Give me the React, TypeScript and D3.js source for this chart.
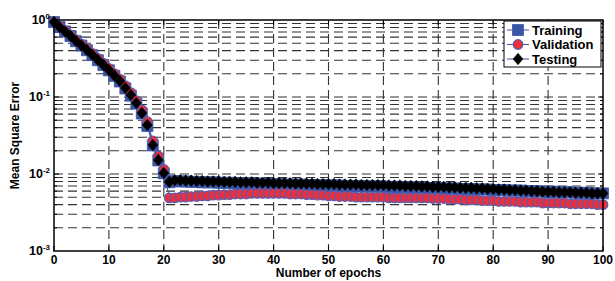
import React, { useEffect, useRef } from 'react';
import * as d3 from 'd3';

// epochs 0..100, one marker per epoch
const epochs: number[] = d3.range(0, 101);

const training: number[] = [
  0.94, 0.81, 0.71, 0.62, 0.53, 0.465, 0.405, 0.35, 0.3, 0.26,
  0.222, 0.188, 0.159, 0.129, 0.104, 0.082, 0.061, 0.042, 0.0235, 0.015,
  0.0102, 0.0078, 0.0081, 0.008, 0.008, 0.0079, 0.0079, 0.0078, 0.0078, 0.0078,
  0.0077, 0.0077, 0.0077, 0.0076, 0.0076, 0.0076, 0.0075, 0.0075, 0.0075, 0.0074,
  0.0074, 0.0074, 0.0073, 0.0073, 0.0073, 0.0073, 0.0072, 0.0072, 0.0072, 0.0072,
  0.0071, 0.0071, 0.0071, 0.007, 0.007, 0.007, 0.007, 0.0069, 0.0069, 0.0069,
  0.0069, 0.0068, 0.0068, 0.0068, 0.0068, 0.0067, 0.0067, 0.0067, 0.0066, 0.0066,
  0.0066, 0.0065, 0.0065, 0.0065, 0.0064, 0.0064, 0.0064, 0.0063, 0.0063, 0.0063,
  0.0062, 0.0062, 0.0062, 0.0061, 0.0061, 0.0061, 0.006, 0.006, 0.006, 0.0059,
  0.0059, 0.0059, 0.0058, 0.0058, 0.0058, 0.0057, 0.0057, 0.0057, 0.0056, 0.0056,
  0.0056
];

const validation: number[] = [
  0.95, 0.83, 0.73, 0.64, 0.555, 0.485, 0.425, 0.368, 0.318, 0.275,
  0.236, 0.201, 0.171, 0.14, 0.114, 0.09, 0.068, 0.048, 0.027, 0.0172,
  0.0115, 0.0049, 0.0049, 0.005, 0.005, 0.0051, 0.0051, 0.0052, 0.0052, 0.0053,
  0.0053, 0.0054, 0.0054, 0.0055, 0.0055, 0.0055, 0.0056, 0.0056, 0.0056, 0.0056,
  0.0056, 0.0056, 0.0056, 0.0055, 0.0055, 0.0055, 0.0054, 0.0054, 0.0053, 0.0053,
  0.0052, 0.0052, 0.0051, 0.0051, 0.0051, 0.005, 0.005, 0.005, 0.005, 0.005,
  0.005, 0.0049, 0.0049, 0.0049, 0.0049, 0.0049, 0.0049, 0.0049, 0.0049, 0.0048,
  0.0048, 0.0048, 0.0047, 0.0047, 0.0047, 0.0046, 0.0046, 0.0046, 0.0045, 0.0045,
  0.0045, 0.0044, 0.0044, 0.0044, 0.0044, 0.0043, 0.0043, 0.0043, 0.0043, 0.0042,
  0.0042, 0.0042, 0.0042, 0.0042, 0.0041, 0.0041, 0.0041, 0.0041, 0.0041, 0.004,
  0.004
];

const testing: number[] = [
  0.94, 0.81, 0.71, 0.62, 0.535, 0.467, 0.408, 0.351, 0.303, 0.261,
  0.224, 0.19, 0.161, 0.131, 0.106, 0.0836, 0.062, 0.0433, 0.0238, 0.0152,
  0.0103, 0.0079, 0.0083, 0.0083, 0.0082, 0.0082, 0.0081, 0.0081, 0.008, 0.008,
  0.008, 0.0079, 0.0079, 0.0079, 0.0078, 0.0078, 0.0078, 0.0077, 0.0077, 0.0077,
  0.0076, 0.0076, 0.0076, 0.0076, 0.0075, 0.0075, 0.0075, 0.0075, 0.0074, 0.0074,
  0.0074, 0.0074, 0.0073, 0.0073, 0.0073, 0.0073, 0.0072, 0.0072, 0.0072, 0.0072,
  0.0072, 0.0071, 0.0071, 0.0071, 0.007, 0.007, 0.007, 0.0069, 0.0069, 0.0068,
  0.0068, 0.0068, 0.0067, 0.0067, 0.0066, 0.0066, 0.0066, 0.0065, 0.0065, 0.0064,
  0.0064, 0.0063, 0.0063, 0.0062, 0.0062, 0.0061, 0.0061, 0.006, 0.006, 0.0059,
  0.0059, 0.0059, 0.0058, 0.0058, 0.0058, 0.0057, 0.0057, 0.0057, 0.0056, 0.0056,
  0.0056
];

const xTicks: number[] = [0, 10, 20, 30, 40, 50, 60, 70, 80, 90, 100];
const yTicks: number[] = [1e-3, 1e-2, 1e-1, 1];
const yExponents: string[] = ['-3', '-2', '-1', '0'];
const legendNames: string[] = ['Training', 'Validation', 'Testing'];

const FONT = '"Liberation Sans", Arial, sans-serif';
const BLUE = '#3a55a6';
const RED = '#ec2f3a';

export default function App() {
  const ref = useRef<SVGSVGElement>(null);

  useEffect(() => {
    const svg = d3.select(ref.current);
    svg.selectAll('*').remove();

    const left = 54, right = 603, top = 20, bottom = 251;

    const x = d3.scaleLinear().domain([0, 100]).range([left, right]);
    const y = d3.scaleLog().domain([1e-3, 1]).range([bottom, top]);

    // grid
    const grid = svg.append('g').attr('class', 'grid');
    const minorVals: number[] = [];
    [1e-3, 1e-2, 1e-1].forEach(dec => {
      for (let k = 1; k < 10; k++) {
        const v = dec * k;
        if (v > 1e-3 && v < 1) minorVals.push(v);
      }
    });
    grid.selectAll('.hgrid')
      .data(minorVals)
      .enter().append('line')
      .attr('x1', left).attr('x2', right)
      .attr('y1', d => y(d)).attr('y2', d => y(d))
      .attr('stroke', '#333')
      .attr('stroke-width', 1.1)
      .attr('stroke-dasharray', '9,5');

    grid.selectAll('.vgrid')
      .data(xTicks.slice(1, -1))
      .enter().append('line')
      .attr('x1', d => x(d)).attr('x2', d => x(d))
      .attr('y1', top).attr('y2', bottom)
      .attr('stroke', '#333')
      .attr('stroke-width', 1.1)
      .attr('stroke-dasharray', '9,5');

    // ticks (inside, both sides)
    const ticks = svg.append('g').attr('stroke', '#000').attr('stroke-width', 1);
    xTicks.forEach(t => {
      ticks.append('line').attr('x1', x(t)).attr('x2', x(t)).attr('y1', bottom).attr('y2', bottom - 5);
      ticks.append('line').attr('x1', x(t)).attr('x2', x(t)).attr('y1', top).attr('y2', top + 5);
    });
    minorVals.forEach(v => {
      const len = [0.01, 0.1].includes(+v.toPrecision(3)) ? 5 : 3;
      ticks.append('line').attr('x1', left).attr('x2', left + len).attr('y1', y(v)).attr('y2', y(v));
      ticks.append('line').attr('x1', right).attr('x2', right - len).attr('y1', y(v)).attr('y2', y(v));
    });

    // series
    const series = [
      { values: training, name: 'training' },
      { values: validation, name: 'validation' },
      { values: testing, name: 'testing' }
    ];
    const line = d3.line<number>()
      .x((d, i) => x(epochs[i]))
      .y(d => y(d));

    const square = d3.symbol().type(d3.symbolSquare).size(121);
    const circle = d3.symbol().type(d3.symbolCircle).size(72);
    const diamondPath = 'M0,-5.8L5,0L0,5.8L-5,0Z';

    const drawMarker = (g: any, name: string, cx: number, cy: number) => {
      if (name === 'training') {
        g.append('path').attr('d', square()).attr('transform', `translate(${cx},${cy})`)
          .attr('fill', BLUE).attr('stroke', BLUE).attr('stroke-width', 0.8);
      } else if (name === 'validation') {
        g.append('path').attr('d', circle()).attr('transform', `translate(${cx},${cy})`)
          .attr('fill', RED).attr('stroke', '#5a5cb0').attr('stroke-width', 1.2);
      } else {
        g.append('path').attr('d', diamondPath).attr('transform', `translate(${cx},${cy})`)
          .attr('fill', '#000').attr('stroke', '#000').attr('stroke-width', 0.5);
      }
    };

    series.forEach(s => {
      const g = svg.append('g').attr('class', s.name);
      g.append('path').datum(s.values)
        .attr('d', line)
        .attr('fill', 'none')
        .attr('stroke', BLUE)
        .attr('stroke-width', 1);
      s.values.forEach((v, i) => drawMarker(g, s.name, x(epochs[i]), y(v)));
    });

    // axis box
    svg.append('rect')
      .attr('x', left).attr('y', top)
      .attr('width', right - left).attr('height', bottom - top)
      .attr('fill', 'none').attr('stroke', '#000').attr('stroke-width', 1.5);

    // tick labels
    svg.append('g').selectAll('text')
      .data(xTicks)
      .enter().append('text')
      .attr('x', d => x(d))
      .attr('y', 264)
      .attr('text-anchor', 'middle')
      .attr('font-family', FONT)
      .attr('font-weight', 'bold')
      .attr('font-size', 12)
      .text(d => d);

    yTicks.forEach((t, i) => {
      const txt = svg.append('text')
        .attr('x', 50)
        .attr('y', y(t) + 4)
        .attr('text-anchor', 'end')
        .attr('font-family', FONT)
        .attr('font-weight', 'bold')
        .attr('font-size', 12.5);
      txt.append('tspan').text('10');
      txt.append('tspan').attr('dy', -5).attr('font-size', 8).text(yExponents[i]);
    });

    // axis titles
    svg.append('text')
      .attr('x', (left + right) / 2)
      .attr('y', 277)
      .attr('text-anchor', 'middle')
      .attr('font-family', FONT)
      .attr('font-weight', 'bold')
      .attr('font-size', 12)
      .text('Number of epochs');

    svg.append('text')
      .attr('transform', `translate(19,${(top + bottom) / 2}) rotate(-90)`)
      .attr('text-anchor', 'middle')
      .attr('font-family', FONT)
      .attr('font-weight', 'bold')
      .attr('font-size', 12)
      .text('Mean Square Error');

    // legend
    const legend = svg.append('g').attr('class', 'legend');
    legend.append('rect')
      .attr('x', 504).attr('y', 21)
      .attr('width', 97).attr('height', 46)
      .attr('fill', '#fff').attr('stroke', '#000').attr('stroke-width', 1);
    legendNames.forEach((n, i) => {
      const ly = 30 + i * 14.5;
      legend.append('line')
        .attr('x1', 507).attr('x2', 529).attr('y1', ly).attr('y2', ly)
        .attr('stroke', BLUE).attr('stroke-width', 1);
      drawMarker(legend, series[i].name, 518, ly);
      legend.append('text')
        .attr('x', 532).attr('y', ly + 4.5)
        .attr('font-family', FONT)
        .attr('font-weight', 'bold')
        .attr('font-size', 13)
        .text(n);
    });
  }, []);

  return (
    <svg ref={ref} width={615} height={281}
      style={{ position: 'absolute', left: 0, top: 0, background: '#fff' }} />
  );
}
